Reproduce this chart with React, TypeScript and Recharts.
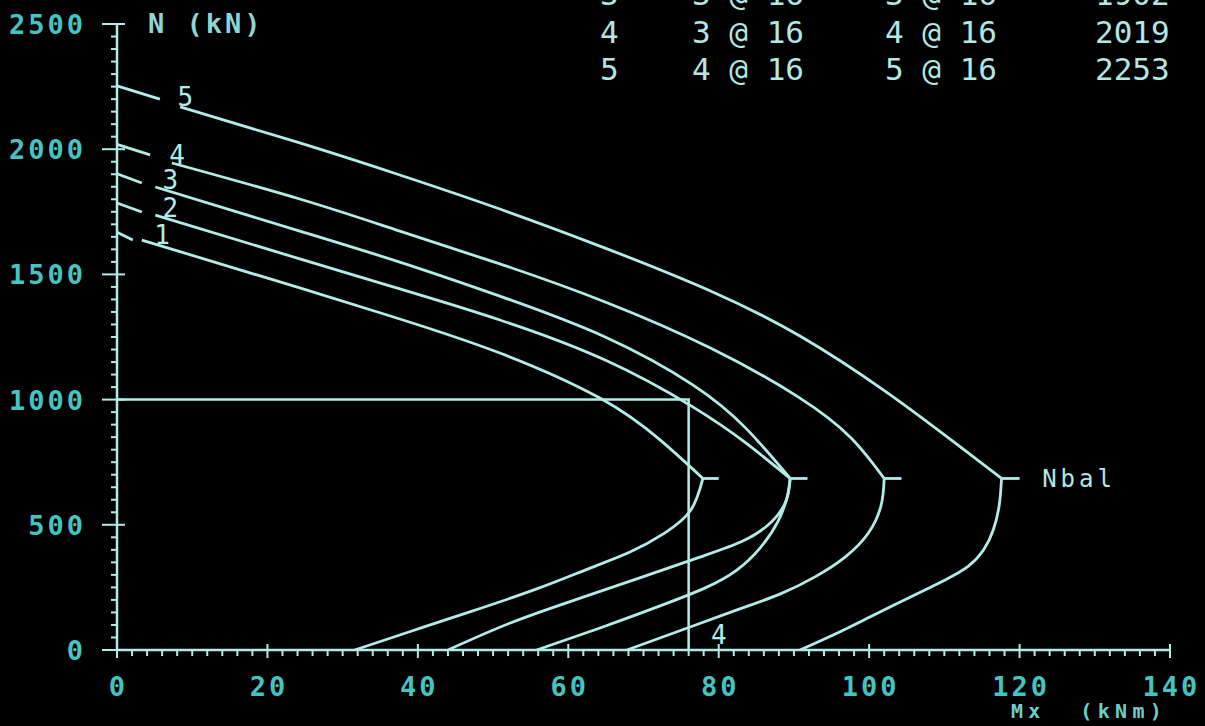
import React from 'react';
import { LineChart, Line, XAxis, YAxis, ReferenceDot } from 'recharts';

// interaction diagram N-Mx

const LINE = '#b2ece8';
const TICK_LABEL = '#45c4c2';
const TEXT = '#b4e6e2';
const MONO = '"DejaVu Sans Mono", "Liberation Mono", monospace';

const xMajor = [0, 20, 40, 60, 80, 100, 120, 140];
const yMajor = [0, 500, 1000, 1500, 2000, 2500];
const xTicks = Array.from({ length: 71 }, (_, i) => i * 2);
const yTicks = Array.from({ length: 51 }, (_, i) => i * 50);

type Pt = { mx: number; n: number };

// each curve: compression branch (down to Nbal) and tension branch (Nbal to N = 0)
const curve1Upper: Pt[] = [
  { mx: 3.3, n: 1637 }, { mx: 24.3, n: 1446 }, { mx: 37.6, n: 1322 }, { mx: 50.9, n: 1186 },
  { mx: 64.2, n: 1006 }, { mx: 72.2, n: 839 }, { mx: 77.9, n: 685 },
];
const curve1Lower: Pt[] = [
  { mx: 77.9, n: 685 }, { mx: 76.3, n: 559 }, { mx: 72.8, n: 467 }, { mx: 68.2, n: 391 },
  { mx: 62.9, n: 327 }, { mx: 55.8, n: 244 }, { mx: 46.9, n: 152 }, { mx: 39.2, n: 76 },
  { mx: 31.6, n: 0 },
];
const curve2Upper: Pt[] = [
  { mx: 5.1, n: 1737 }, { mx: 24.3, n: 1562 }, { mx: 37.6, n: 1442 }, { mx: 50.9, n: 1318 },
  { mx: 64.9, n: 1158 }, { mx: 76.6, n: 970 }, { mx: 83.6, n: 827 }, { mx: 89.5, n: 685 },
];
const curve2Lower: Pt[] = [
  { mx: 89.5, n: 685 }, { mx: 89.0, n: 599 }, { mx: 87.0, n: 511 }, { mx: 83.2, n: 435 },
  { mx: 77.5, n: 371 }, { mx: 69.5, n: 288 }, { mx: 60.9, n: 200 }, { mx: 52.3, n: 108 },
  { mx: 44.0, n: 0 },
];
const curve3Upper: Pt[] = [
  { mx: 5.1, n: 1849 }, { mx: 24.3, n: 1673 }, { mx: 37.6, n: 1549 }, { mx: 50.9, n: 1413 },
  { mx: 64.9, n: 1250 }, { mx: 76.6, n: 1058 }, { mx: 83.6, n: 886 }, { mx: 89.5, n: 685 },
];
const curve3Lower: Pt[] = [
  { mx: 89.5, n: 685 }, { mx: 89.1, n: 611 }, { mx: 87.9, n: 515 }, { mx: 85.6, n: 411 },
  { mx: 82.4, n: 319 }, { mx: 78.2, n: 248 }, { mx: 72.2, n: 176 }, { mx: 64.6, n: 92 },
  { mx: 55.8, n: 0 },
];
const curve4Upper: Pt[] = [
  { mx: 7.3, n: 1945 }, { mx: 24.3, n: 1801 }, { mx: 37.6, n: 1673 }, { mx: 50.9, n: 1542 },
  { mx: 64.9, n: 1390 }, { mx: 78.9, n: 1206 }, { mx: 90.6, n: 1010 }, { mx: 97.6, n: 847 },
  { mx: 102.0, n: 685 },
];
const curve4Lower: Pt[] = [
  { mx: 102.0, n: 685 }, { mx: 101.6, n: 579 }, { mx: 99.9, n: 467 }, { mx: 96.8, n: 371 },
  { mx: 92.8, n: 292 }, { mx: 88.2, n: 224 }, { mx: 82.8, n: 164 }, { mx: 76.2, n: 92 },
  { mx: 67.8, n: 0 },
];
const curve5Upper: Pt[] = [
  { mx: 8.4, n: 2169 }, { mx: 24.3, n: 2025 }, { mx: 37.6, n: 1897 }, { mx: 50.9, n: 1761 },
  { mx: 64.9, n: 1605 }, { mx: 78.9, n: 1434 }, { mx: 90.8, n: 1254 }, { mx: 102.3, n: 1030 },
  { mx: 111.6, n: 823 }, { mx: 117.6, n: 685 },
];
const curve5Lower: Pt[] = [
  { mx: 117.6, n: 685 }, { mx: 117.3, n: 579 }, { mx: 116.5, n: 479 }, { mx: 115.2, n: 399 },
  { mx: 113.2, n: 335 }, { mx: 110.1, n: 280 }, { mx: 105.5, n: 212 }, { mx: 100.1, n: 132 },
  { mx: 95.5, n: 64 }, { mx: 90.8, n: 0 },
];
const branches = [
  curve1Upper, curve1Lower, curve2Upper, curve2Lower, curve3Upper, curve3Lower,
  curve4Upper, curve4Lower, curve5Upper, curve5Lower,
];

// short leader from N0 on the axis towards the curve number
const n0 = [1668, 1785, 1902, 2019, 2253];
const leaderEnd: Pt[] = [
  { mx: 2.1, n: 1637 }, { mx: 3.3, n: 1749 }, { mx: 3.3, n: 1865 }, { mx: 4.4, n: 1977 }, { mx: 5.7, n: 2200 },
];
const curveNames = ['1', '2', '3', '4', '5'];
const curveNamePos: Pt[] = [
  { mx: 6.0, n: 1657 }, { mx: 7.1, n: 1765 }, { mx: 7.1, n: 1877 }, { mx: 8.0, n: 1977 }, { mx: 9.1, n: 2208 },
];

// balance point markers
const nBal = 685;
const balMx = [77.9, 89.5, 102.0, 117.6];
const balTickEnd = [80.0, 91.8, 104.3, 120.0];

// design point N = 1000, Mx = 76
const designLine: Pt[] = [{ mx: 0, n: 1000 }, { mx: 76, n: 1000 }, { mx: 76, n: 0 }];

// reinforcement table (top row is cut off by the screen edge)
const tableNo = ['3', '4', '5'];
const tableTop = ['3 @ 16', '3 @ 16', '4 @ 16'];
const tableBottom = ['3 @ 16', '4 @ 16', '5 @ 16'];
const tableN0 = ['1902', '2019', '2253'];

const labelFont = { fontFamily: MONO, fontSize: 27, fontWeight: 700, letterSpacing: 3 };
const SW = 2.8;

const XTick = (props: any) => {
  const { x, y, payload } = props;
  const major = xMajor.includes(payload.value);
  return (
    <g>
      <line x1={x} x2={x} y1={major ? y - 6 : y} y2={y + (major ? 8 : 6)} stroke={LINE} strokeWidth={2} />
      {major && (
        <text x={x + 1.5} y={y + 46} textAnchor="middle" fill={TICK_LABEL} {...labelFont}>
          {payload.value}
        </text>
      )}
    </g>
  );
};

const YTick = (props: any) => {
  const { x, y, payload } = props;
  const major = yMajor.includes(payload.value);
  return (
    <g>
      <line x1={major ? x - 15 : x - 6} x2={major ? x + 8 : x} y1={y} y2={y} stroke={LINE} strokeWidth={2} />
      {major && (
        <text x={x - 31} y={y + 10} textAnchor="end" fill={TICK_LABEL} {...labelFont}>
          {payload.value}
        </text>
      )}
    </g>
  );
};

const App: React.FC = () => {
  return (
    <div style={{ position: 'absolute', left: 0, top: 0, width: 1205, height: 726, background: '#000', overflow: 'hidden' }}>
      <LineChart width={1205} height={726} margin={{ top: 24, right: 35, bottom: 16, left: 17 }}>
        <XAxis
          type="number"
          dataKey="mx"
          domain={[0, 140]}
          ticks={xTicks}
          interval={0}
          height={60}
          tickSize={0}
          tickMargin={0}
          tickLine={false}
          axisLine={{ stroke: LINE, strokeWidth: 2.5 }}
          tick={XTick}
        />
        <YAxis
          type="number"
          dataKey="n"
          domain={[0, 2500]}
          ticks={yTicks}
          interval={0}
          width={100}
          tickSize={0}
          tickMargin={0}
          tickLine={false}
          axisLine={{ stroke: LINE, strokeWidth: 2.5 }}
          tick={YTick}
        />

        <Line data={designLine} dataKey="n" type="linear" stroke={LINE} strokeWidth={2.5}
          dot={false} activeDot={false} isAnimationActive={false} />

        {branches.map((c, i) => (
          <Line key={'c' + i} data={c} dataKey="n" type="natural" stroke={LINE} strokeWidth={SW}
            dot={false} activeDot={false} isAnimationActive={false} />
        ))}

        {n0.map((v, i) => (
          <Line key={'l' + i} data={[{ mx: 0, n: v }, leaderEnd[i]]} dataKey="n" type="linear"
            stroke={LINE} strokeWidth={SW} dot={false} activeDot={false} isAnimationActive={false} />
        ))}

        {balMx.map((m, i) => (
          <Line key={'b' + i} data={[{ mx: m, n: nBal }, { mx: balTickEnd[i], n: nBal }]} dataKey="n"
            type="linear" stroke={LINE} strokeWidth={SW} dot={false} activeDot={false} isAnimationActive={false} />
        ))}

        {curveNames.map((t, i) => (
          <ReferenceDot key={'t' + i} x={curveNamePos[i].mx} y={curveNamePos[i].n} r={0}
            fill="none" stroke="none"
            label={{ value: t, position: 'center', fill: LINE, fontSize: 26, fontFamily: MONO }} />
        ))}
        <ReferenceDot x={80.0} y={60} r={0} fill="none" stroke="none"
          label={{ value: '4', position: 'center', fill: LINE, fontSize: 26, fontFamily: MONO }} />
        <ReferenceDot x={123.0} y={nBal} r={0} fill="none" stroke="none"
          label={{ value: 'Nbal', position: 'right', offset: 0, fill: TEXT, fontSize: 24, fontFamily: MONO, letterSpacing: 4 }} />
      </LineChart>

      <svg width={1205} height={726} style={{ position: 'absolute', left: 0, top: 0, pointerEvents: 'none' }}>
        <text x={148} y={33} fill="#8fd6d2" {...labelFont}>N (kN)</text>
        <text x={1011} y={718} fill="#6ccfcb" fontFamily={MONO} fontSize={20} fontWeight={700} letterSpacing={5.3}
          style={{ whiteSpace: 'pre' }}>
          {'Mx  (kNm)'}
        </text>
        {tableNo.map((no, i) => {
          const base = 5 + i * 37.5;
          const font = { fontFamily: MONO, fontSize: 31, fill: TEXT };
          return (
            <g key={no}>
              <text x={600} y={base} {...font}>{no}</text>
              <text x={692} y={base} {...font}>{tableTop[i]}</text>
              <text x={885} y={base} {...font}>{tableBottom[i]}</text>
              <text x={1095} y={base} {...font}>{tableN0[i]}</text>
            </g>
          );
        })}
      </svg>
    </div>
  );
};

export default App;
